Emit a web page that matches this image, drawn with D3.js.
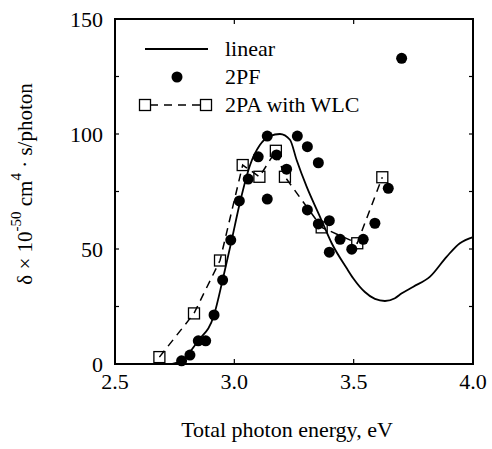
<!DOCTYPE html>
<html>
<head>
<meta charset="utf-8">
<script src="https://cdn.jsdelivr.net/npm/d3@7"></script>
<style>
  body { margin: 0; background: #fff; }
  svg { display: block; }
  text { font-family: "Liberation Serif", "Times New Roman", "DejaVu Serif", serif; fill: #000; }
</style>
</head>
<body>
<script>
// 2PF / 2PA spectrum

// linear absorption curve (energy eV, delta)
let linearE = [2.74, 2.776, 2.848, 2.915, 2.951, 2.989, 3.024, 3.066, 3.107, 3.149, 3.191, 3.233, 3.261, 3.303, 3.359, 3.408, 3.471, 3.498, 3.547, 3.589, 3.631, 3.673, 3.70, 3.75, 3.82, 3.89, 3.945, 4.0]
let linearV = [0, 1.3, 10, 21.3, 36.5, 53.9, 70.4, 86.5, 95.2, 99.1, 100, 97.5, 88.7, 77.1, 64, 52.5, 41.6, 37.3, 31.3, 28.3, 27.4, 28.6, 30.6, 33.6, 38, 46.7, 52.5, 55.2]

// 2PF points
let pfE = [2.779, 2.814, 2.849, 2.880, 2.915, 2.951, 2.985, 3.021, 3.058, 3.100, 3.138, 3.138, 3.177, 3.219, 3.264, 3.306, 3.306, 3.352, 3.352, 3.398, 3.398, 3.443, 3.492, 3.540, 3.589, 3.645, 3.701]
let pfV = [1.4, 3.9, 10.1, 10.1, 21.3, 36.5, 53.9, 70.9, 80.4, 90.1, 99.1, 71.7, 90.9, 84.7, 99.1, 94.5, 67.0, 87.5, 60.9, 62.3, 48.6, 54.2, 49.9, 54.2, 61.2, 76.4, 132.9]

// 2PA with WLC
let paE = [2.686, 2.831, 2.940, 3.035, 3.105, 3.174, 3.212, 3.366, 3.515, 3.620]
let paV = [3, 22, 45, 86.5, 81.4, 92.7, 81.4, 59.4, 52.5, 81.2]

let xTicks = [2.5, 3.0, 3.5, 4.0]
let yTicks = [0, 50, 100, 150]
let yMinor = [25, 75, 125]
let legendNames = ['linear', '2PF', '2PA with WLC']

let W = 492, H = 449
let pLeft = 115, pRight = 473, pTop = 19, pBottom = 364
let serif = '"Liberation Serif", "Times New Roman", "DejaVu Serif", serif'

let x = d3.scaleLinear().domain([2.5, 4.0]).range([pLeft, pRight])
let y = d3.scaleLinear().domain([0, 150]).range([pBottom, pTop])

let svg = d3.select('body').append('svg').attr('width', W).attr('height', H)
  .attr('font-family', serif)

// ticks, inward on all four sides
let tk = svg.append('g').attr('stroke', '#000').attr('stroke-width', 1.2)
xTicks.slice(1, -1).forEach(function (v) {
  tk.append('line').attr('x1', x(v)).attr('x2', x(v)).attr('y1', pBottom).attr('y2', pBottom - 5)
  tk.append('line').attr('x1', x(v)).attr('x2', x(v)).attr('y1', pTop).attr('y2', pTop + 5)
})
yTicks.slice(1, -1).concat(yMinor).forEach(function (v) {
  tk.append('line').attr('x1', pLeft).attr('x2', pLeft + 4).attr('y1', y(v)).attr('y2', y(v))
  tk.append('line').attr('x1', pRight).attr('x2', pRight - 4).attr('y1', y(v)).attr('y2', y(v))
})

// tick labels
svg.selectAll('.xl').data(xTicks).enter().append('text')
  .attr('x', function (d) { return x(d) })
  .attr('y', pBottom + 25)
  .attr('text-anchor', 'middle')
  .attr('font-size', 22)
  .text(function (d) { return d.toFixed(1) })
svg.selectAll('.yl').data(yTicks).enter().append('text')
  .attr('x', pLeft - 12)
  .attr('y', function (d) { return y(d) + 7.5 })
  .attr('text-anchor', 'end')
  .attr('font-size', 22)
  .text(function (d) { return d })

// axis titles
svg.append('text')
  .attr('x', 287).attr('y', 437)
  .attr('text-anchor', 'middle')
  .attr('font-size', 22)
  .text('Total photon energy, eV')
let yt = svg.append('text')
  .attr('transform', 'translate(32,184) rotate(-90)')
  .attr('text-anchor', 'middle')
  .attr('font-size', 21)
yt.append('tspan').text('δ × 10')
yt.append('tspan').attr('dy', -11).attr('font-size', 15).text('-50')
yt.append('tspan').attr('dy', 11).text(' cm')
yt.append('tspan').attr('dy', -11).attr('font-size', 15).text('4')
yt.append('tspan').attr('dy', 11).text(' · s/photon')

// linear curve
let linePts = linearE.map(function (e, i) { return [e, linearV[i]] })
svg.append('path')
  .datum(linePts)
  .attr('fill', 'none').attr('stroke', '#000').attr('stroke-width', 1.8)
  .attr('d', d3.line().x(function (d) { return x(d[0]) }).y(function (d) { return y(d[1]) }).curve(d3.curveMonotoneX))

// 2PA dashed + squares
let paPts = paE.map(function (e, i) { return [e, paV[i]] })
svg.append('path')
  .datum(paPts)
  .attr('fill', 'none').attr('stroke', '#000').attr('stroke-width', 1.5)
  .attr('stroke-dasharray', '8,6')
  .attr('d', d3.line().x(function (d) { return x(d[0]) }).y(function (d) { return y(d[1]) }))
svg.selectAll('.sq').data(paPts).enter().append('rect')
  .attr('x', function (d) { return x(d[0]) - 5.5 })
  .attr('y', function (d) { return y(d[1]) - 5.5 })
  .attr('width', 11).attr('height', 11)
  .attr('fill', 'none').attr('stroke', '#000').attr('stroke-width', 1.3)

// 2PF circles
svg.selectAll('.pf').data(pfE).enter().append('circle')
  .attr('cx', function (d) { return x(d) })
  .attr('cy', function (d, i) { return y(pfV[i]) })
  .attr('r', 5.5)
  .attr('fill', '#000')

// frame
svg.append('rect')
  .attr('x', pLeft).attr('y', pTop)
  .attr('width', pRight - pLeft).attr('height', pBottom - pTop)
  .attr('fill', 'none').attr('stroke', '#000').attr('stroke-width', 2)

// legend
let lg = svg.append('g')
let ly = [49, 77, 105]
lg.append('line').attr('x1', 145).attr('x2', 208).attr('y1', ly[0]).attr('y2', ly[0])
  .attr('stroke', '#000').attr('stroke-width', 1.8)
lg.append('circle').attr('cx', 177).attr('cy', ly[1]).attr('r', 5.5).attr('fill', '#000')
lg.append('line').attr('x1', 150).attr('x2', 206).attr('y1', ly[2]).attr('y2', ly[2])
  .attr('stroke', '#000').attr('stroke-width', 1.5).attr('stroke-dasharray', '8,6')
;[145, 206].forEach(function (cx) {
  lg.append('rect').attr('x', cx - 5.5).attr('y', ly[2] - 5.5).attr('width', 11).attr('height', 11)
    .attr('fill', 'none').attr('stroke', '#000').attr('stroke-width', 1.3)
})
lg.selectAll('text').data(legendNames).enter().append('text')
  .attr('x', 225)
  .attr('y', function (d, i) { return ly[i] + 7 })
  .attr('font-size', 22)
  .text(function (d) { return d })
</script>
</body>
</html>
